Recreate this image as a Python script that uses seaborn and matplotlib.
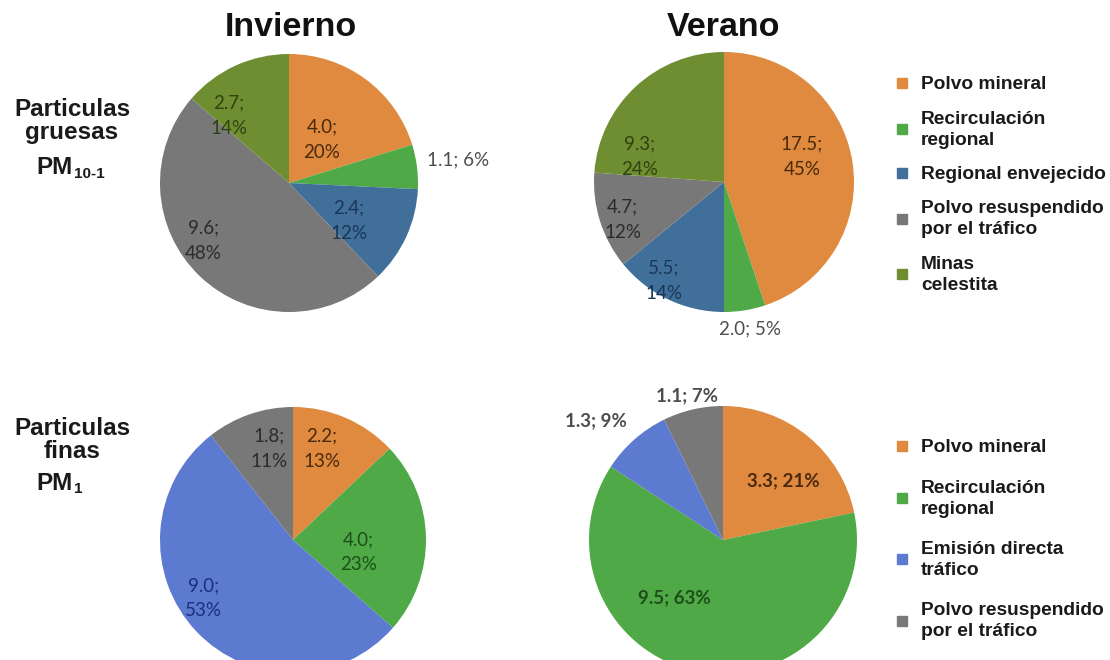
import numpy as np
import matplotlib
matplotlib.use("Agg")
import matplotlib.pyplot as plt
from matplotlib.lines import Line2D
from matplotlib.text import Annotation
import seaborn as sns

# ---- data -----------------------------------------------------------------
seasons = ["Invierno", "Verano"]

coarse_sources = ["Polvo mineral", "Recirculación\nregional", "Regional envejecido",
                  "Polvo resuspendido\npor el tráfico", "Minas\ncelestita"]
fine_sources = ["Polvo mineral", "Recirculación\nregional", "Emisión directa\ntráfico",
                "Polvo resuspendido\npor el tráfico"]

# concentrations (µg/m³) and shares (%) per source
coarse_winter = [4.0, 1.1, 2.4, 9.6, 2.7]
coarse_winter_pct = [20, 6, 12, 48, 14]
coarse_summer = [17.5, 2.0, 5.5, 4.7, 9.3]
coarse_summer_pct = [45, 5, 14, 12, 24]
fine_winter = [2.2, 4.0, 9.0, 1.8]
fine_winter_pct = [13, 23, 53, 11]
fine_summer = [3.3, 9.5, 1.3, 1.1]
fine_summer_pct = [21, 63, 9, 7]

# ---- styling --------------------------------------------------------------
sns.set_theme(style="white")
plt.rcParams["font.family"] = ["Liberation Sans", "DejaVu Sans"]

ORANGE, GREEN, STEEL, GREY, OLIVE, CORN = ("#DF8A3F", "#4FA947", "#40709A",
                                            "#787878", "#6E8E31", "#5B7AD0")
coarse_colors = [ORANGE, GREEN, STEEL, GREY, OLIVE]
fine_colors = [ORANGE, GREEN, CORN, GREY]
coarse_text = ["#4a2a0c", "#1d4f1a", "#1a3657", "#2b2b2b", "#2f4210"]
fine_text = ["#4a2a0c", "#1d4f1a", "#1c2f7a", "#2b2b2b"]
OUTSIDE = "#4d4d4d"

W, H = 1110, 660
fig = plt.figure(figsize=(W / 100, H / 100), dpi=100)
fig.patch.set_facecolor("white")


def px(x, y):
    return x / W, 1 - y / H


def pie_axes(cx, cy, r):
    return fig.add_axes([(cx - r) / W, 1 - (cy + r) / H, 2 * r / W, 2 * r / H])


def draw_pie(ax, values, pcts, colors, text_colors, label_pos, two_line, bold=False):
    wedges, _ = ax.pie(values, colors=colors, startangle=90, counterclock=False,
                       wedgeprops=dict(linewidth=0))
    ax.set_xlim(-1, 1)
    ax.set_ylim(-1, 1)
    ax.axis("off")
    for w in wedges:
        w.set_clip_on(False)
    total = float(np.sum(values))
    cum = np.concatenate([[0.0], np.cumsum(values)])
    for i, v in enumerate(values):
        mid = 90 - 360 * (cum[i] + v / 2) / total
        dtheta, rad = label_pos[i]
        ang = np.deg2rad(mid + dtheta)
        sep = "\n" if two_line[i] else " "
        txt = f"{v:.1f};{sep}{pcts[i]}%"
        color = OUTSIDE if rad > 1 else text_colors[i]
        ax.text(rad * np.cos(ang), rad * np.sin(ang), txt, ha="center", va="center",
                color=color, fontsize=13.5, family=["Lato", "DejaVu Sans"],
                fontweight="bold" if bold else "normal", linespacing=1.6,
                clip_on=False)


# label placement: (angle offset from wedge middle in degrees, radius)
pos_cw = [(-1, 0.42), (0.5, 1.32), (-7.5, 0.55), (-12.3, 0.80), (17.4, 0.70)]
pos_cs = [(8.8, 0.63), (0.9, 1.15), (-6.1, 0.89), (2.8, 0.83), (30.5, 0.68)]
pos_fw = [(5.6, 0.72), (-11.6, 0.50), (-10.3, 0.80), (-4.3, 0.71)]
pos_fs = [(-6.4, 0.63), (-29.3, 0.56), (5.2, 1.30), (0.8, 1.11)]

ax1 = pie_axes(289, 183, 129)
draw_pie(ax1, coarse_winter, coarse_winter_pct, coarse_colors, coarse_text, pos_cw,
         [True, False, True, True, True])
ax2 = pie_axes(724, 182, 130)
draw_pie(ax2, coarse_summer, coarse_summer_pct, coarse_colors, coarse_text, pos_cs,
         [True, False, True, True, True])
ax3 = pie_axes(293, 540, 133)
draw_pie(ax3, fine_winter, fine_winter_pct, fine_colors, fine_text, pos_fw,
         [True, True, True, True])
ax4 = pie_axes(723, 540, 134)
draw_pie(ax4, fine_summer, fine_summer_pct, fine_colors, fine_text, pos_fs,
         [False, False, False, False], bold=True)

# season titles
for season, x in zip(seasons, [291, 724]):
    fig.text(*px(x, 27), season, ha="center", va="center", fontsize=24.5,
             fontweight="bold", color="#111111")

# row labels
def row_label(cy_text, cy_pm, words, sub):
    fig.text(*px(72, cy_text), words, ha="center", va="center", fontsize=17.5,
             fontweight="bold", color="#1a1a1a", linespacing=1.05)
    pm = fig.text(*px(73, cy_pm), "PM", ha="right", va="center", fontsize=17.5,
                  fontweight="bold", color="#1a1a1a")
    fig.add_artist(Annotation(
        sub, xy=(1, 0), xycoords=pm, xytext=(1, 4), textcoords="offset points",
        ha="left", va="center", fontsize=11, fontweight="bold", color="#1a1a1a"))


row_label(121, 168, "Particulas\ngruesas", "10-1")
row_label(440, 483, "Particulas\nfinas", "1")

# legends
def legend(labels, colors, y_top, spacing):
    handles = [Line2D([], [], marker="s", linestyle="", markersize=6.5, color=c)
               for c in colors]
    leg = fig.legend(handles, labels, loc="upper left", bbox_to_anchor=px(896, y_top),
                     frameon=False, borderpad=0, borderaxespad=0, handlelength=0.6,
                     handletextpad=0.7, labelspacing=spacing,
                     prop=dict(family="Liberation Sans", weight="bold", size=13.8),
                     labelcolor="#1a1a1a")
    for t in leg.get_texts():
        t.set_linespacing(1.3)


legend(coarse_sources, coarse_colors, 76, 0.9)
legend(fine_sources, fine_colors, 439, 1.21)

fig.savefig("out.png", dpi=100, facecolor="white")
